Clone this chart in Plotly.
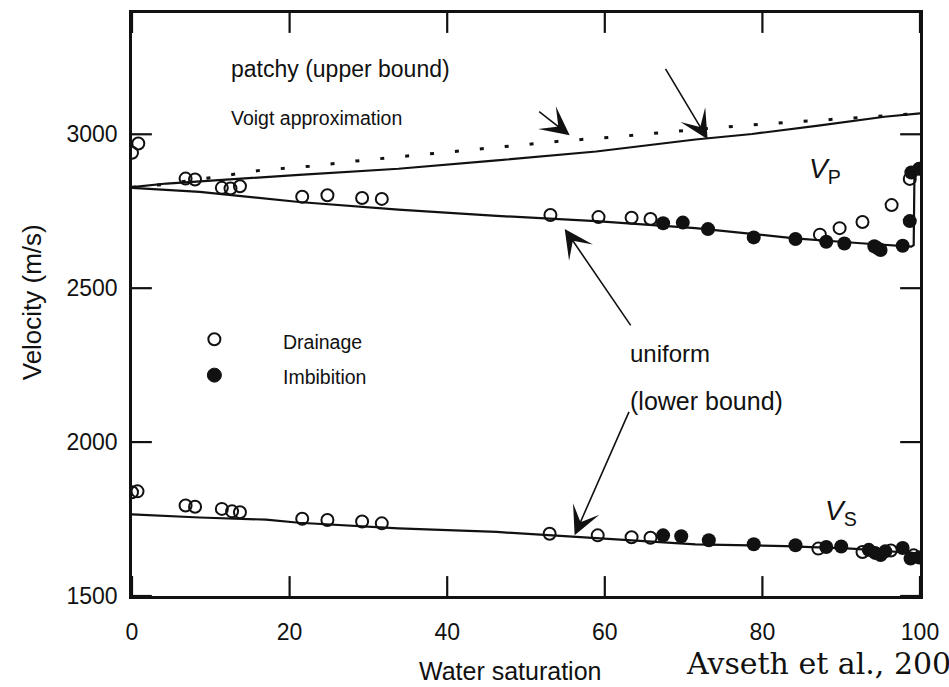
import plotly.graph_objects as go

# ---------------- data ----------------
sw_patchy = [0, 4.4, 21.2, 33.8, 46.3, 58.9, 71.5, 78.7, 87.1, 95.5, 100]
vp_patchy = [2828, 2840, 2868, 2888, 2915, 2944, 2983, 3001, 3028, 3057, 3068]

sw_voigt = [0, 3.7, 10.0, 16.3, 22.5, 29.1, 35.6, 41.9, 48.2, 54.5, 61.1, 67.5, 73.6, 80.1, 86.4, 93.2, 100]
vp_voigt = [2828, 2836, 2859, 2883, 2896, 2915, 2931, 2947, 2961, 2978, 2991, 3007, 3020, 3033, 3044, 3055, 3068]

sw_uniform = [0, 8.6, 21.2, 33.8, 46.3, 58.9, 71.5, 84.1, 92.5, 98.9, 99.2, 99.3, 100]
vp_uniform = [2826, 2813, 2780, 2755, 2735, 2718, 2695, 2662, 2646, 2635, 2640, 2880, 2890]

sw_vs_line = [0, 8.6, 17.0, 21.2, 33.8, 46.3, 56.4, 71.5, 82.9, 91.3, 100]
vs_line = [1765, 1755, 1748, 1738, 1720, 1708, 1692, 1668, 1662, 1654, 1638]

sw_drain_vp = [0, 0.8, 6.8, 8.0, 11.4, 12.5, 13.7, 21.6, 24.8, 29.2, 31.7, 53.1, 59.2, 63.4, 65.8,
               87.3, 89.8, 92.7, 96.4, 98.7]
vp_drain = [2940, 2970, 2856, 2853, 2826, 2824, 2831, 2797, 2802, 2793, 2790, 2738, 2731, 2729, 2725,
            2674, 2695, 2715, 2770, 2855]

sw_imb_vp = [67.4, 69.9, 73.1, 78.9, 84.2, 88.1, 90.4, 94.2, 94.6, 95.0, 97.8, 98.7, 98.9, 99.9]
vp_imb = [2711, 2713, 2692, 2665, 2660, 2651, 2645, 2636, 2630, 2624, 2638, 2718, 2876, 2888]

sw_drain_vs = [0, 0.7, 6.8, 8.0, 11.4, 12.7, 13.7, 21.6, 24.8, 29.2, 31.7, 53.0, 59.1, 63.4, 65.8,
               87.1, 92.7, 96.3, 99.2]
vs_drain = [1837, 1840, 1794, 1790, 1783, 1775, 1772, 1751, 1747, 1742, 1736, 1702, 1697, 1691, 1689,
            1654, 1643, 1648, 1632]

sw_imb_vs = [67.4, 69.7, 73.2, 78.9, 84.2, 88.1, 90.0, 93.5, 94.3, 95.0, 95.6, 97.8, 98.8, 99.9]
vs_imb = [1697, 1694, 1681, 1668, 1665, 1659, 1661, 1650, 1640, 1633, 1645, 1656, 1622, 1625]

x_ticks = [0, 20, 40, 60, 80, 100]
y_ticks = [1500, 2000, 2500, 3000]

# ---------------- layout geometry ----------------
W, H = 949, 687
L, R, T, B = 132, 23, 10, 91
PW, PH = W - L - R, H - T - B
X_RANGE = [0, 100]
Y_RANGE = [1500, 3394]
TICK_LEN = 20

def px_x(px):
    return (px - L) / PW

def px_y(py):
    return (H - B - py) / PH

def dx(px):
    return X_RANGE[0] + (px - L) / PW * (X_RANGE[1] - X_RANGE[0])

def dy(py):
    return Y_RANGE[0] + (H - B - py) / PH * (Y_RANGE[1] - Y_RANGE[0])

FONT = "Liberation Sans, Arial, Helvetica, sans-serif"
INK = "#111111"

fig = go.Figure()

fig.add_trace(go.Scatter(x=sw_voigt, y=vp_voigt, mode="lines", name="Voigt approximation",
                         line=dict(color=INK, width=3, dash="4px,21px"), showlegend=False))
fig.add_trace(go.Scatter(x=sw_patchy, y=vp_patchy, mode="lines", name="patchy (upper bound)",
                         line=dict(color=INK, width=2.2), showlegend=False))
fig.add_trace(go.Scatter(x=sw_uniform, y=vp_uniform, mode="lines", name="uniform Vp",
                         line=dict(color=INK, width=2.2), showlegend=False))
fig.add_trace(go.Scatter(x=sw_vs_line, y=vs_line, mode="lines", name="uniform Vs",
                         line=dict(color=INK, width=2.2), showlegend=False))

fig.add_trace(go.Scatter(x=sw_drain_vp, y=vp_drain, mode="markers", name="Drainage",
                         marker=dict(symbol="circle-open", size=12, color=INK, line=dict(width=2, color=INK)),
                         showlegend=False))
fig.add_trace(go.Scatter(x=sw_drain_vs, y=vs_drain, mode="markers", name="Drainage",
                         marker=dict(symbol="circle-open", size=12, color=INK, line=dict(width=2, color=INK)),
                         showlegend=False))
fig.add_trace(go.Scatter(x=sw_imb_vp, y=vp_imb, mode="markers", name="Imbibition",
                         marker=dict(symbol="circle", size=14, color=INK), showlegend=False))
fig.add_trace(go.Scatter(x=sw_imb_vs, y=vs_imb, mode="markers", name="Imbibition",
                         marker=dict(symbol="circle", size=14, color=INK), showlegend=False))

annotations = []

def text(t, px, py, size, anchor="left", family=FONT, angle=0):
    annotations.append(dict(text=t, x=px_x(px), y=px_y(py), xref="paper", yref="paper",
                            xanchor=anchor, yanchor="middle", showarrow=False, textangle=angle,
                            font=dict(family=family, size=size, color=INK)))

text("patchy (upper bound)", 230, 66, 23)
text("Voigt approximation", 230, 116, 19.5)
text("Drainage", 282, 341, 19.5)
text("Imbibition", 282, 376, 19.5)
text("uniform", 632, 352, 24)
text("(lower bound)", 632, 400, 25)
text("<i>V</i><sub>P</sub>", 812, 168, 28)
text("<i>V</i><sub>S</sub>", 828, 512, 28)
text("Water saturation", 513, 671, 25, anchor="center")
text("Velocity (m/s)", 31, 301, 26, anchor="center", angle=-90)
text("Avseth et al., 2005", 688, 664, 30, family="DejaVu Serif, Liberation Serif, serif")

def arrow(tip_px, tip_py, tail_px, tail_py):
    annotations.append(dict(text="", x=dx(tip_px), y=dy(tip_py), xref="x", yref="y",
                            ax=tail_px - tip_px, ay=tail_py - tip_py, showarrow=True,
                            arrowhead=3, arrowsize=3, arrowwidth=1.6, arrowcolor=INK))

arrow(573, 133, 541, 108)
arrow(712, 137, 669, 65)
arrow(568, 227, 635, 325)
arrow(578, 535, 633, 410)

shapes = [
    dict(type="circle", xref="paper", yref="paper", xsizemode="pixel", ysizemode="pixel",
         xanchor=px_x(215), yanchor=px_y(338), x0=-6, x1=6, y0=-6, y1=6,
         line=dict(color=INK, width=2), fillcolor="rgba(0,0,0,0)"),
    dict(type="circle", xref="paper", yref="paper", xsizemode="pixel", ysizemode="pixel",
         xanchor=px_x(215), yanchor=px_y(374), x0=-7, x1=7, y0=-7, y1=7,
         line=dict(color=INK, width=1), fillcolor=INK),
]

# inward tick marks on all four sides (drawn from the tick value lists)
tl_y = TICK_LEN / PH
tl_x = TICK_LEN / PW
for v in x_ticks:
    shapes.append(dict(type="line", xref="x", yref="paper", x0=v, x1=v, y0=0, y1=tl_y,
                       line=dict(color=INK, width=2.2)))
    shapes.append(dict(type="line", xref="x", yref="paper", x0=v, x1=v, y0=1, y1=1 - tl_y,
                       line=dict(color=INK, width=2.2)))
for v in y_ticks:
    shapes.append(dict(type="line", xref="paper", yref="y", x0=0, x1=tl_x, y0=v, y1=v,
                       line=dict(color=INK, width=2.2)))
    shapes.append(dict(type="line", xref="paper", yref="y", x0=1, x1=1 - tl_x, y0=v, y1=v,
                       line=dict(color=INK, width=2.2)))

axis_common = dict(showline=True, linecolor=INK, linewidth=2.5, mirror=True,
                   ticks="", showgrid=False, zeroline=False, layer="above traces",
                   tickfont=dict(family=FONT, size=23, color=INK))

fig.update_layout(
    width=W, height=H,
    margin=dict(l=L, r=R, t=T, b=B),
    paper_bgcolor="white", plot_bgcolor="white",
    font=dict(family=FONT, color=INK),
    xaxis=dict(range=X_RANGE, tickvals=x_ticks, ticktext=[str(v) for v in x_ticks],
               ticklabelstandoff=14, **axis_common),
    yaxis=dict(range=Y_RANGE, tickvals=y_ticks, ticktext=[str(v) for v in y_ticks],
               ticklabelstandoff=7, **axis_common),
    annotations=annotations,
    shapes=shapes,
    showlegend=False,
)

fig.write_html("out.html", config={"displayModeBar": False},
               post_script="document.body.style.margin='0px';document.body.style.padding='0px';")
